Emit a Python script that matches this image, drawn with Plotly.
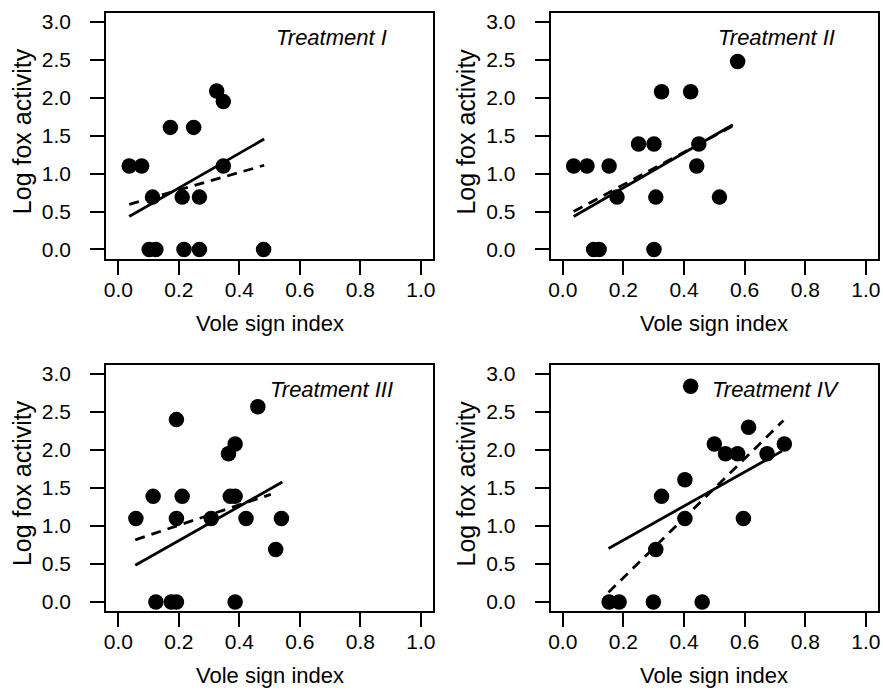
import plotly.graph_objects as go

# ---------------- data ----------------
panel_names = ["Treatment I", "Treatment II", "Treatment III", "Treatment IV"]

t1_x = [0.036, 0.077, 0.113, 0.172, 0.249, 0.325, 0.347, 0.347, 0.211, 0.268, 0.102, 0.124, 0.217, 0.268, 0.480]
t1_y = [1.10, 1.10, 0.69, 1.61, 1.61, 2.09, 1.95, 1.10, 0.69, 0.69, 0.0, 0.0, 0.0, 0.0, 0.0]

t2_x = [0.036, 0.080, 0.153, 0.179, 0.250, 0.301, 0.326, 0.422, 0.577, 0.449, 0.442, 0.307, 0.517, 0.102, 0.120, 0.301]
t2_y = [1.10, 1.10, 1.10, 0.69, 1.39, 1.39, 2.08, 2.08, 2.48, 1.39, 1.10, 0.69, 0.69, 0.0, 0.0, 0.0]

t3_x = [0.058, 0.115, 0.211, 0.192, 0.192, 0.307, 0.364, 0.386, 0.370, 0.386, 0.461, 0.422, 0.539, 0.520, 0.124, 0.175, 0.192, 0.386]
t3_y = [1.10, 1.39, 1.39, 2.40, 1.10, 1.10, 1.95, 2.08, 1.39, 1.39, 2.57, 1.10, 1.10, 0.69, 0.0, 0.0, 0.0, 0.0]

t4_x = [0.422, 0.153, 0.186, 0.299, 0.460, 0.307, 0.326, 0.403, 0.403, 0.500, 0.537, 0.577, 0.613, 0.674, 0.731, 0.596]
t4_y = [2.84, 0.0, 0.0, 0.0, 0.0, 0.69, 1.39, 1.10, 1.61, 2.08, 1.95, 1.95, 2.30, 1.95, 2.08, 1.10]

# fitted lines: endpoints (x, y) of solid and dashed lines
t1_solid_x, t1_solid_y = [0.036, 0.482], [0.433, 1.456]
t1_dash_x, t1_dash_y = [0.036, 0.482], [0.595, 1.110]
t2_solid_x, t2_solid_y = [0.036, 0.561], [0.433, 1.644]
t2_dash_x, t2_dash_y = [0.036, 0.561], [0.500, 1.630]
t3_solid_x, t3_solid_y = [0.056, 0.542], [0.485, 1.578]
t3_dash_x, t3_dash_y = [0.056, 0.504], [0.818, 1.417]
t4_solid_x, t4_solid_y = [0.151, 0.723], [0.704, 1.985]
t4_dash_x, t4_dash_y = [0.151, 0.728], [0.127, 2.387]

x_ticks = [0.0, 0.2, 0.4, 0.6, 0.8, 1.0]
y_ticks = [0.0, 0.5, 1.0, 1.5, 2.0, 2.5, 3.0]
x_title = "Vole sign index"
y_title = "Log fox activity"

points = [(t1_x, t1_y), (t2_x, t2_y), (t3_x, t3_y), (t4_x, t4_y)]
solids = [(t1_solid_x, t1_solid_y), (t2_solid_x, t2_solid_y), (t3_solid_x, t3_solid_y), (t4_solid_x, t4_solid_y)]
dashes = [(t1_dash_x, t1_dash_y), (t2_dash_x, t2_dash_y), (t3_dash_x, t3_dash_y), (t4_dash_x, t4_dash_y)]

# ---------------- layout geometry ----------------
W, H = 883, 690
x_doms = [(104.7 / W, 433.0 / W), (551.1 / W, 880.0 / W)]
y_doms = [(1 - 258.0 / H, 1 - 11.0 / H), (1 - 612.7 / H, 1 - 365.0 / H)]

FONT = "Liberation Sans, Arial, Helvetica, sans-serif"

fig = go.Figure()
layout = dict(
    width=W, height=H,
    margin=dict(l=0, r=0, t=0, b=0),
    paper_bgcolor="white", plot_bgcolor="white",
    showlegend=False,
    font=dict(family=FONT, size=21, color="black"),
    annotations=[],
)

for i in range(4):
    row, col = divmod(i, 2)
    n = "" if i == 0 else str(i + 1)
    xa, ya = "x" + n, "y" + n
    px, py = points[i]
    fig.add_trace(go.Scatter(x=px, y=py, mode="markers", xaxis=xa, yaxis=ya, cliponaxis=False,
                             marker=dict(size=15.5, color="black", line=dict(width=0))))
    sx, sy = solids[i]
    fig.add_trace(go.Scatter(x=sx, y=sy, mode="lines", xaxis=xa, yaxis=ya,
                             line=dict(color="black", width=2.8)))
    dx, dy = dashes[i]
    fig.add_trace(go.Scatter(x=dx, y=dy, mode="lines", xaxis=xa, yaxis=ya,
                             line=dict(color="black", width=2.8, dash="10px,7px")))

    common = dict(showgrid=False, zeroline=False, showline=True, linecolor="black",
                  linewidth=2, mirror=True, ticks="outside", ticklen=14, tickwidth=2,
                  tickcolor="black", tickfont=dict(size=21, family=FONT, color="black"))
    layout["xaxis" + n] = dict(domain=x_doms[col], anchor=ya, range=[-0.04, 1.04],
                               tickvals=x_ticks, tickformat=".1f", ticklabelstandoff=-3, **common)
    layout["yaxis" + n] = dict(domain=y_doms[row], anchor=xa, range=[-0.12, 3.12],
                               tickvals=y_ticks, tickformat=".1f", ticklabelstandoff=15, **common)

    layout["annotations"].append(dict(
        x=0.705, y=2.79, xref=xa, yref=ya, text="<i>" + panel_names[i] + "</i>",
        showarrow=False, xanchor="center", yanchor="middle",
        font=dict(size=22, family=FONT, color="black")))
    # axis titles
    xc = (x_doms[col][0] + x_doms[col][1]) / 2
    layout["annotations"].append(dict(
        x=xc, y=(1 - 323.0 / H) if row == 0 else (1 - 677.0 / H), xref="paper", yref="paper",
        text=x_title, showarrow=False, xanchor="center", yanchor="middle",
        font=dict(size=22, family=FONT, color="black")))
    layout["annotations"].append(dict(
        x=(20.0 / W) if col == 0 else (466.4 / W), y=(1 - 130.0 / H) if row == 0 else (1 - 484.0 / H),
        xref="paper", yref="paper", text=y_title, showarrow=False, textangle=-90,
        xanchor="center", yanchor="middle",
        font=dict(size=25, family=FONT, color="black")))

fig.update_layout(**layout)
fig.write_html("out.html", config={"displayModeBar": False},
               post_script="document.body.style.margin='0';document.body.style.overflow='hidden';")
